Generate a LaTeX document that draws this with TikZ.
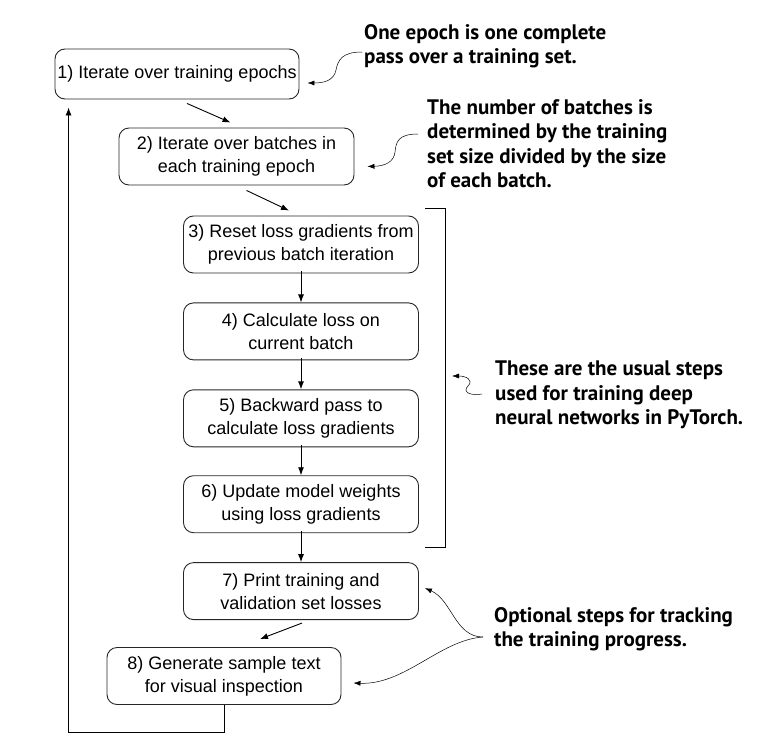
\documentclass[tikz,border=0pt]{standalone}
\usepackage{fontspec}
\setmainfont{Liberation Sans}
\newfontfamily\notefont{PT Sans}
\usetikzlibrary{arrows.meta,positioning}

\tikzset{
	stepbox/.style={draw=black!85, line width=0.9pt, rounded corners=10pt, minimum width=235pt, minimum height=57pt, inner sep=0pt, align=center, font=\fontsize{18}{23}\selectfont},
	note/.style={anchor=north west, inner sep=0pt, align=left, font=\notefont\bfseries\fontsize{21}{24.5}\selectfont},
	flow/.style={line width=0.9pt, -{Latex[length=8pt,width=6pt]}},
	hint/.style={line width=0.5pt, -{Latex[length=7pt,width=5pt]}}
}

\begin{document}
\begin{tikzpicture}[x=1pt,y=-1pt]
			\useasboundingbox (0,0) rectangle (778,744);

			% the steps
			\node[stepbox, minimum width=244pt, minimum height=50pt] (b1) at (177,74) {1) Iterate over training epochs};
			\node[stepbox] (b2) at (236.5,156.5) {2) Iterate over batches in\\each training epoch};
			\node[stepbox] (b3) at (301,244.5) {3) Reset loss gradients from\\previous batch iteration};
			\node[stepbox, below=29pt of b3] (b4) {4) Calculate loss on\\current batch};
			\node[stepbox, below=29pt of b4] (b5) {5) Backward pass to\\calculate loss gradients};
			\node[stepbox, below=28pt of b5] (b6) {6) Update model weights\\using loss gradients};
			\node[stepbox, below=29pt of b6] (b7) {7) Print training and\\validation set losses};
			\node[stepbox, minimum width=234pt] (b8) at (224,676) {8) Generate sample text\\for visual inspection};

			\draw[flow] ([shift={(10,4)}]b1.south) -- ([shift={(-6,-5)}]b2.north);
			\draw[flow] ([shift={(10,5)}]b2.south) -- ([shift={(-12,-5)}]b3.north);
			\foreach \a/\b in {b3/b4,b4/b5,b5/b6,b6/b7}
			\draw[flow] ([yshift=2pt]\a.south) -- (\b.north);
			\draw[flow] ([shift={(1,3)}]b7.south) -- ([shift={(36,-8)}]b8.north);

			% loop back to the epochs
			\draw[flow] (b8.south) -- ++(0,27) -| ([shift={(14,8)}]b1.south west);

			% bracket round steps 3 to 6
			\coordinate (brtop) at (425,208);
			\coordinate (brbot) at (425,547);
			\draw[line width=0.9pt] (brtop) -- ++(20,0) |- (brbot);

			% notes
			\node[note] (n1) at (364,24) {One epoch is one complete\\pass over a training set.};
			\node[note] (n2) at (427,99) {The number of batches is\\determined by the training\\set size divided by the size\\of each batch.};
			\node[note] (n3) at (495,361) {These are the usual steps\\used for training deep\\neural networks in PyTorch.};
			\node[note] (n4) at (494,607) {Optional steps for tracking\\the training progress.};

			\coordinate (c1) at (362,52);
			\coordinate (c2) at (418,134);
			\coordinate (c3) at (482,394);
			\coordinate (c4) at (483,637);
			\coordinate (t3) at (452,376);

			\draw[hint] (c1) .. controls (342,52) and (338,60) .. (336,70) .. controls (334,80) and (325,83) .. ([shift={(8,9)}]b1.east);
			\draw[hint] (c2) .. controls (398,134) and (396,142) .. (395,152) .. controls (394,162) and (385,166) .. ([shift={(13,10)}]b2.east);
			\draw[hint] (c3) .. controls (470,396) and (462,392) .. (468,386) .. controls (474,380) and (466,376) .. (t3);
			\draw[hint] (c4) .. controls (455,637) and (452,600) .. ([shift={(6,-3)}]b7.east);
			\draw[hint] (c4) .. controls (440,640) and (405,685) .. ([shift={(12,7)}]b8.east);
		\end{tikzpicture}
\end{document}
